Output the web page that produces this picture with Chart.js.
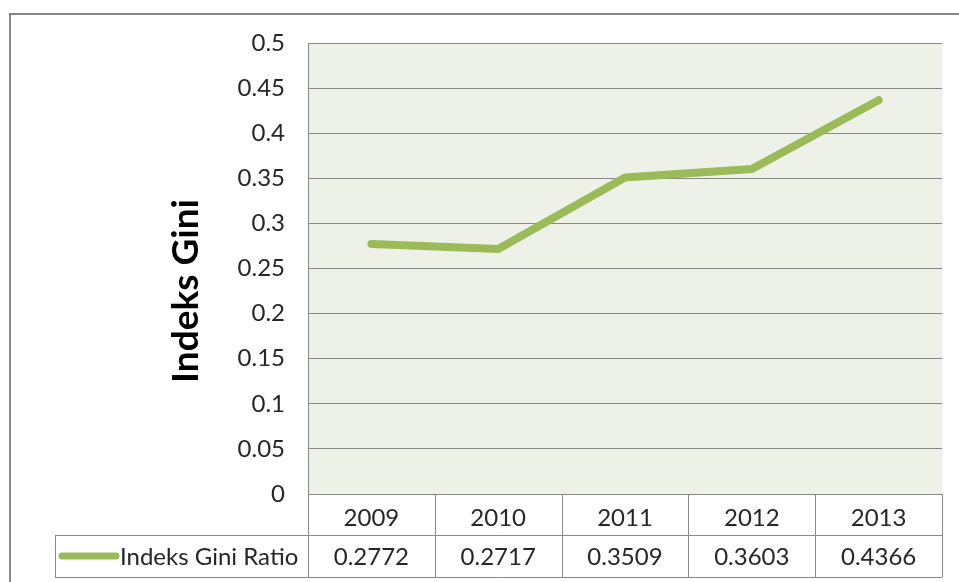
<!DOCTYPE html>
<html>
<head>
<meta charset="utf-8">
<script src="https://cdn.jsdelivr.net/npm/chart.js@4/dist/chart.umd.min.js"></script>
<style>
  html, body { margin: 0; padding: 0; background: #fff; }
  #wrap { width: 959px; height: 582px; }
</style>
</head>
<body>
<div id="wrap"><canvas id="giniChart" width="959" height="582"></canvas></div>
<script>
const years = ['2009', '2010', '2011', '2012', '2013'];
const giniValues = [0.2772, 0.2717, 0.3509, 0.3603, 0.4366];
const seriesName = 'Indeks Gini Ratio';
const axisTitle = 'Indeks Gini';

const FONT = 'Lato, "Open Sans", sans-serif';
const lineGreen = '#9bbb59';
const gridGray = '#898989';
const textColor = '#262626';

// plot background, outer frame, data table and rotated title
const excelLook = {
    id: 'excelLook',
    beforeDraw(chart) {
        const ctx = chart.ctx;
        const a = chart.chartArea;
        ctx.save();
        ctx.fillStyle = '#eef1e8';
        ctx.fillRect(a.left, a.top, a.right - a.left, a.bottom - a.top);
        ctx.restore();
    },
    afterDraw(chart) {
        const ctx = chart.ctx;
        const a = chart.chartArea;
        const xs = chart.scales.x;
        const row1 = a.bottom + 41;
        const row2 = a.bottom + 83;
        const legendLeft = 55;

        ctx.save();
        // outer frame
        ctx.strokeStyle = '#868686';
        ctx.lineWidth = 2;
        ctx.strokeRect(10, 14, 980, 600);

        // table lines
        ctx.strokeStyle = gridGray;
        ctx.lineWidth = 1;
        ctx.beginPath();
        ctx.moveTo(a.left, a.bottom + 0.5); ctx.lineTo(a.right, a.bottom + 0.5);
        ctx.moveTo(legendLeft, row1 + 0.5); ctx.lineTo(a.right, row1 + 0.5);
        ctx.moveTo(legendLeft, row2 + 0.5); ctx.lineTo(a.right, row2 + 0.5);
        ctx.moveTo(legendLeft + 0.5, row1); ctx.lineTo(legendLeft + 0.5, row2);
        ctx.moveTo(Math.round(a.left) + 0.5, a.top); ctx.lineTo(Math.round(a.left) + 0.5, row2);
        const step = (a.right - a.left) / years.length;
        for (let i = 1; i <= years.length; i++) {
            const x = Math.round(a.left + step * i) + 0.5;
            ctx.moveTo(x, a.bottom); ctx.lineTo(x, row2);
        }
        ctx.stroke();

        // legend key in the table
        ctx.strokeStyle = lineGreen;
        ctx.lineWidth = 7;
        ctx.lineCap = 'round';
        ctx.beginPath();
        ctx.moveTo(62, (row1 + row2) / 2);
        ctx.lineTo(116, (row1 + row2) / 2);
        ctx.stroke();

        ctx.fillStyle = textColor;
        ctx.font = '24px ' + FONT;
        ctx.textBaseline = 'middle';
        ctx.textAlign = 'left';
        ctx.fillText(seriesName, 120, (row1 + row2) / 2 + 1);

        // values row
        ctx.textAlign = 'center';
        giniValues.forEach((v, i) => {
            ctx.fillText(v.toFixed(4), xs.getPixelForValue(i), (row1 + row2) / 2 + 1);
        });

        // y axis title
        ctx.translate(186, 291);
        ctx.rotate(-Math.PI / 2);
        ctx.font = 'bold 37px ' + FONT;
        ctx.fillStyle = '#000';
        ctx.textAlign = 'center';
        ctx.fillText(axisTitle, 0, 0);
        ctx.restore();
    }
};

new Chart(document.getElementById('giniChart'), {
    type: 'line',
    data: {
        labels: years,
        datasets: [{
            label: seriesName,
            data: giniValues,
            borderColor: lineGreen,
            borderWidth: 8,
            borderCapStyle: 'round',
            borderJoinStyle: 'round',
            pointRadius: 0,
            tension: 0,
            fill: false
        }]
    },
    options: {
        responsive: false,
        animation: false,
        layout: { padding: { left: 0, top: 43, right: 17, bottom: 0 } },
        plugins: {
            legend: { display: false },
            tooltip: { enabled: false }
        },
        scales: {
            x: {
                offset: true,
                grid: { display: false },
                border: { display: false },
                ticks: {
                    color: textColor,
                    font: { family: FONT, size: 24 },
                    padding: 2,
                    maxRotation: 0
                },
                afterFit(scale) { scale.height = 88; }
            },
            y: {
                min: 0,
                max: 0.5,
                grid: { color: gridGray, drawTicks: false },
                border: { display: false },
                ticks: {
                    stepSize: 0.05,
                    color: textColor,
                    font: { family: FONT, size: 24 },
                    padding: 23,
                    callback: v => String(Number(v.toFixed(2)))
                },
                afterFit(scale) { scale.width = 308; }
            }
        }
    },
    plugins: [excelLook]
});
</script>
</body>
</html>
